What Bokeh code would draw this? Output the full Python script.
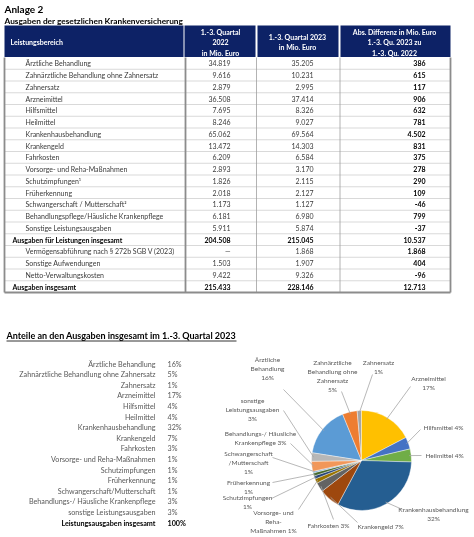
import math
from bokeh.plotting import figure
from bokeh.models import Range1d
from bokeh.core.properties import value
from bokeh.embed import file_html
from bokeh.resources import INLINE

# ---------------- data ----------------
categories = [
    "Ärztliche Behandlung",
    "Zahnärztliche Behandlung ohne Zahnersatz",
    "Zahnersatz",
    "Arzneimittel",
    "Hilfsmittel",
    "Heilmittel",
    "Krankenhausbehandlung",
    "Krankengeld",
    "Fahrkosten",
    "Vorsorge- und Reha-Maßnahmen",
    "Schutzimpfungen¹",
    "Früherkennung",
    "Schwangerschaft / Mutterschaft²",
    "Behandlungspflege/Häusliche Krankenpflege",
    "Sonstige Leistungsausgaben",
    "Ausgaben für Leistungen insgesamt",
    "Vermögensabführung nach § 272b SGB V (2023)",
    "Sonstige Aufwendungen",
    "Netto-Verwaltungskosten",
    "Ausgaben insgesamt",
]
q2022 = [34819, 9616, 2879, 36508, 7695, 8246, 65062, 13472, 6209, 2893, 1826,
         2018, 1173, 6181, 5911, 204508, None, 1503, 9422, 215433]
q2023 = [35205, 10231, 2995, 37414, 8326, 9027, 69564, 14303, 6584, 3170, 2115,
         2127, 1127, 6980, 5874, 215045, 1868, 1907, 9326, 228146]
diff = [386, 615, 117, 906, 632, 781, 4502, 831, 375, 278, 290, 109, -46, 799,
        -37, 10537, 1868, 404, -96, 12713]
bold_rows = ["Ausgaben für Leistungen insgesamt", "Ausgaben insgesamt"]

share_labels = [
    "Ärztliche Behandlung", "Zahnärztliche Behandlung ohne Zahnersatz", "Zahnersatz",
    "Arzneimittel", "Hilfsmittel", "Heilmittel", "Krankenhausbehandlung", "Krankengeld",
    "Fahrkosten", "Vorsorge- und Reha-Maßnahmen", "Schutzimpfungen", "Früherkennung",
    "Schwangerschaft/Mutterschaft", "Behandlungs-/ Häusliche Krankenpflege",
    "sonstige Leistungsausgaben", "Leistungsausgaben insgesamt",
]
share_pct = [16, 5, 1, 17, 4, 4, 32, 7, 3, 1, 1, 1, 1, 3, 3, 100]

pie_values = q2023[:15]
pie_colors = ["#5B9BD5", "#ED7D31", "#A5A5A5", "#FFC000", "#4472C4", "#70AD47",
              "#255E91", "#9E480E", "#636363", "#997300", "#264478", "#43682B",
              "#7CAFDD", "#F1975A", "#B7B7B7"]
pie_label_lines = [
    ["Ärztliche", "Behandlung", "16%"],
    ["Zahnärztliche", "Behandlung ohne", "Zahnersatz", "5%"],
    ["Zahnersatz", "1%"],
    ["Arzneimittel", "17%"],
    ["Hilfsmittel 4%"],
    ["Heilmittel 4%"],
    ["Krankenhausbehandlung", "32%"],
    ["Krankengeld 7%"],
    ["Fahrkosten 3%"],
    ["Vorsorge- und", "Reha-", "Maßnahmen 1%"],
    ["Schutzimpfungen", "1%"],
    ["Früherkennung", "1%"],
    ["Schwangerschaft", "/Mutterschaft", "1%"],
    ["Behandlungs-/ Häusliche", "Krankenpflege 3%"],
    ["sonstige", "Leistungsausgaben", "3%"],
]
# label placement (x, first-line y, align, leader start x, leader start y)
pie_label_pos = [
    (267, 359, "center", 283, 389),
    (332, 362, "center", 341, 391),
    (378, 362, "center", 372, 374),
    (428, 378, "center", 410, 386),
    (423, 427, "left", 420, 429),
    (425, 455, "left", 421, 455),
    (433, 509, "center", 402, 509),
    (357, 526, "left", 357, 522),
    (307, 525, "left", 333, 519),
    (273, 512, "center", 298, 509),
    (247, 497, "center", 271, 498),
    (248, 482, "center", 272, 482),
    (248, 453, "center", 272, 457),
    (260, 433, "center", 290, 443),
    (252, 400, "center", 283, 410),
]

FONT = value("Lato")
W, H = 474, 537


def Y(y):
    return H - y


def fmt(v):
    if v is None:
        return "—"
    s = f"{abs(v):,}".replace(",", ".")
    return ("-" if v < 0 else "") + s


p = figure(width=W, height=H, x_range=Range1d(0, W), y_range=Range1d(0, H),
           output_backend="svg", toolbar_location=None, min_border=0)
p.axis.visible = False
p.grid.visible = False
p.outline_line_color = None
p.background_fill_color = "white"
p.border_fill_color = "white"
p.styles = {"position": "fixed", "left": "0px", "top": "0px"}

# ---------------- titles ----------------
p.text(x=[4], y=[Y(8)], text=["Anlage 2"], text_font=FONT, text_font_size="10px",
       text_font_style="bold", text_baseline="middle", text_color="#000000")
p.text(x=[4], y=[Y(20)], text=["Ausgaben der gesetzlichen Krankenversicherung"],
       text_font=FONT, text_font_size="8.3px", text_font_style="bold",
       text_baseline="middle", text_color="#000000")

# ---------------- table ----------------
NAVY = "#0D2266"
col_l = [4, 184, 257, 340]
col_r = [183, 255, 338, 450]
hdr_top, hdr_bot = 25, 56.5
p.quad(left=col_l, right=col_r, top=[Y(hdr_top)] * 4, bottom=[Y(hdr_bot)] * 4,
       fill_color=NAVY, line_color=None)

hdr_txt = [("Leistungsbereich", 10, 41, "left")]
hdr_txt += [(t, 220, yy, "center") for t, yy in
            zip(["1.-3. Quartal", "2022", "in Mio. Euro"], [31, 41.5, 52])]
hdr_txt += [(t, 297, yy, "center") for t, yy in
            zip(["1.-3. Quartal 2023", "in Mio. Euro"], [36, 46.5])]
hdr_txt += [(t, 394, yy, "center") for t, yy in
            zip(["Abs. Differenz in Mio. Euro", "1.-3. Qu. 2023 zu", "1.-3. Qu. 2022"],
                [31, 41.5, 52])]
for t, xx, yy, al in hdr_txt:
    p.text(x=[xx], y=[Y(yy)], text=[t], text_font=FONT, text_font_size="7px",
           text_font_style="bold", text_align=al, text_baseline="middle",
           text_color="white")

n = len(categories)
row_h = 11.75
tbl_top = 57
row_c = [tbl_top + (i + 0.5) * row_h for i in range(n)]
bounds = [tbl_top + i * row_h for i in range(n + 1)]

# horizontal row lines
p.segment(x0=[4] * (n - 1), x1=[450] * (n - 1), y0=[Y(b) for b in bounds[1:-1]],
          y1=[Y(b) for b in bounds[1:-1]], line_color="#c8c8c8", line_width=0.7)
# vertical lines
for xx, lw, col in [(4, 1.8, "#8c8c8c"), (185, 1.8, "#8c8c8c"), (256, 0.8, "#a0a0a0"),
                    (339.5, 0.8, "#a0a0a0"), (450, 1.8, "#8c8c8c")]:
    p.segment(x0=[xx], x1=[xx], y0=[Y(bounds[0])], y1=[Y(bounds[-1])],
              line_color=col, line_width=lw)
p.segment(x0=[4], x1=[450], y0=[Y(bounds[-1])], y1=[Y(bounds[-1])],
          line_color="#8c8c8c", line_width=1.8)

for i, cat in enumerate(categories):
    b = cat in bold_rows
    style = "bold" if b else "normal"
    col = "#000000" if b else "#3a3a3a"
    yy = Y(row_c[i])
    p.text(x=[12 if b else 25], y=[yy], text=[cat], text_font=FONT,
           text_font_size="7px", text_font_style=style, text_baseline="middle",
           text_color=col)
    p.text(x=[230, 313], y=[yy, yy], text=[fmt(q2022[i]), fmt(q2023[i])],
           text_font=FONT, text_font_size="7px", text_font_style=style,
           text_align="right", text_baseline="middle", text_color=col)
    p.text(x=[425], y=[yy], text=[fmt(diff[i])], text_font=FONT,
           text_font_size="7px", text_font_style="bold", text_align="right",
           text_baseline="middle", text_color="#000000")

# ---------------- second section ----------------
p.text(x=[6], y=[Y(335)], text=["Anteile an den Ausgaben insgesamt im 1.-3. Quartal 2023"],
       text_font=FONT, text_font_size="9px", text_font_style="bold",
       text_baseline="middle", text_color="#000000")
p.segment(x0=[6], x1=[236], y0=[Y(340.5)], y1=[Y(340.5)], line_color="#000000",
          line_width=0.8)

list_y = [363.5 + i * 10.6 for i in range(len(share_labels))]
for i, (lab, pc) in enumerate(zip(share_labels, share_pct)):
    last = i == len(share_labels) - 1
    style = "bold" if last else "normal"
    col = "#000000" if last else "#595959"
    p.text(x=[155], y=[Y(list_y[i])], text=[lab], text_font=FONT, text_font_size="7.2px",
           text_font_style=style, text_align="right", text_baseline="middle",
           text_color=col)
    p.text(x=[167], y=[Y(list_y[i])], text=[f"{pc}%"], text_font=FONT,
           text_font_size="7.2px", text_font_style=style, text_align="left",
           text_baseline="middle", text_color=col)

# ---------------- pie ----------------
cx, cy, R = 361, 460, 50
total = sum(pie_values)
frac = [v / total for v in pie_values]
start = math.pi / 2 + 2 * math.pi * sum(frac[:3])
a_hi, a_lo, a_mid = [], [], []
cum = 0.0
for f in frac:
    a0 = start - 2 * math.pi * cum
    a1 = a0 - 2 * math.pi * f
    a_hi.append(a0)
    a_lo.append(a1)
    a_mid.append((a0 + a1) / 2)
    cum += f

p.wedge(x=[cx] * len(frac), y=[Y(cy)] * len(frac), radius=R, radius_units="screen",
        start_angle=a_lo, end_angle=a_hi, fill_color=pie_colors,
        line_color="white", line_width=0.4)

# leader lines
lx0, ly0, lx1, ly1 = [], [], [], []
for (lx, ly, al, sx, sy), am in zip(pie_label_pos, a_mid):
    lx0.append(sx)
    ly0.append(Y(sy))
    lx1.append(cx + (R - 2) * math.cos(am))
    ly1.append(Y(cy) + (R - 2) * math.sin(am))
p.segment(x0=lx0, y0=ly0, x1=lx1, y1=ly1, line_color="#a6a6a6", line_width=0.8)

for lines, (lx, ly, al, sx, sy) in zip(pie_label_lines, pie_label_pos):
    for k, t in enumerate(lines):
        p.text(x=[lx], y=[Y(ly + k * 9)], text=[t], text_font=FONT,
               text_font_size="6.5px", text_align=al, text_baseline="middle",
               text_color="#595959")

open("out.html", "w").write(file_html(p, INLINE))
